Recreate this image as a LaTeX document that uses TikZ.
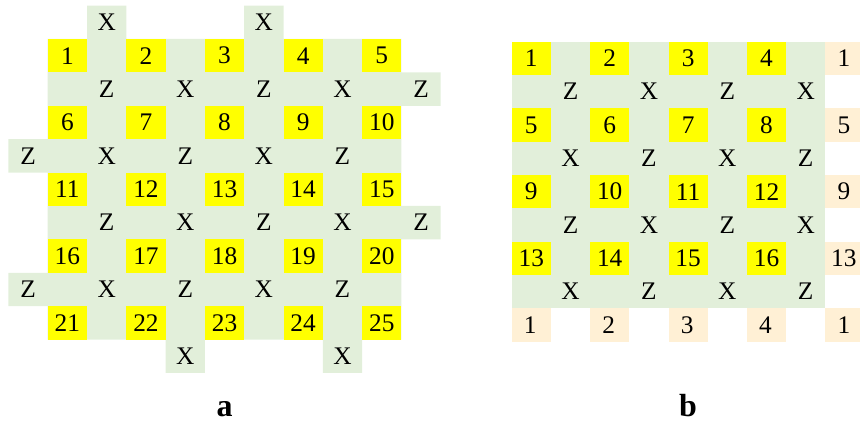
\documentclass[tikz,border=0pt]{standalone}
\usepackage{fontspec}
\setmainfont{Liberation Serif}
\definecolor{gr}{HTML}{E2EFDA}
\definecolor{yl}{HTML}{FFFF00}
\definecolor{bg}{HTML}{FFF0D5}
\begin{document}
\begin{tikzpicture}[x=0.75pt,y=-0.75pt,
  lbl/.style={font=\fontsize{19}{22}\selectfont, inner sep=0pt, anchor=center},
  panellbl/.style={font=\fontsize{24}{28}\selectfont\bfseries, inner sep=0pt, anchor=base}]
\useasboundingbox (0,0) rectangle (860,423);
% ---------- panel a ----------
\def\ax{8.4}\def\aw{39.3}\def\ay{5.6}\def\ah{33.4}
\fill[gr] \foreach \a/\b/\c/\d in {1/1/10/10, 2/0/3/1, 6/0/7/1, 10/2/11/3, 10/6/11/7, 0/4/1/5, 0/8/1/9, 4/10/5/11, 8/10/9/11}
  {({\ax+\a*\aw},{\ay+\b*\ah}) rectangle ({\ax+\c*\aw},{\ay+\d*\ah})};
\foreach \k in {0,...,4}{
  \foreach \j in {0,...,4}{
    \pgfmathtruncatemacro{\n}{5*\k+\j+1}
    \pgfmathsetmacro{\cc}{2*\j+1}
    \pgfmathsetmacro{\rr}{2*\k+1}
    \fill[yl] ({\ax+\cc*\aw},{\ay+\rr*\ah}) rectangle ({\ax+(\cc+1)*\aw},{\ay+(\rr+1)*\ah});
    \node[lbl] (aq\n) at ({\ax+(\cc+0.5)*\aw},{\ay+(\rr+0.5)*\ah}) {\n};
  }
}
\foreach \c/\r/\t [count=\i] in {2/0/X, 6/0/X,
  2/2/Z, 4/2/X, 6/2/Z, 8/2/X, 10/2/Z,
  0/4/Z, 2/4/X, 4/4/Z, 6/4/X, 8/4/Z,
  2/6/Z, 4/6/X, 6/6/Z, 8/6/X, 10/6/Z,
  0/8/Z, 2/8/X, 4/8/Z, 6/8/X, 8/8/Z,
  4/10/X, 8/10/X}
  \node[lbl] (as\i) at ({\ax+(\c+0.5)*\aw},{\ay+(\r+0.5)*\ah}) {\t};
\node[panellbl] (capa) at (224.7,416.7) {a};
% ---------- panel b ----------
\def\bx{511.7}\def\bw{39.2}\def\by{41.7}\def\bh{33.33}
\fill[gr] (\bx,\by) rectangle ({\bx+8*\bw},{\by+8*\bh});
\foreach \k in {0,...,3}{
  \foreach \j in {0,...,3}{
    \pgfmathtruncatemacro{\n}{4*\k+\j+1}
    \pgfmathsetmacro{\cc}{2*\j}
    \pgfmathsetmacro{\rr}{2*\k}
    \fill[yl] ({\bx+\cc*\bw},{\by+\rr*\bh}) rectangle ({\bx+(\cc+1)*\bw},{\by+(\rr+1)*\bh});
    \node[lbl] (bq\n) at ({\bx+(\cc+0.5)*\bw},{\by+(\rr+0.5)*\bh}) {\n};
  }
}
\foreach \c/\r/\t [count=\i] in {8/0/1, 8/2/5, 8/4/9, 8/6/13, 0/8/1, 2/8/2, 4/8/3, 6/8/4, 8/8/1}{
  \fill[bg] ({\bx+\c*\bw},{\by+\r*\bh}) rectangle ({\bx+(\c+1)*\bw},{\by+(\r+1)*\bh});
  \node[lbl] (bb\i) at ({\bx+(\c+0.5)*\bw-1},{\by+(\r+0.5)*\bh}) {\t};
}
\foreach \c/\r/\t [count=\i] in {
  1/1/Z, 3/1/X, 5/1/Z, 7/1/X,
  1/3/X, 3/3/Z, 5/3/X, 7/3/Z,
  1/5/Z, 3/5/X, 5/5/Z, 7/5/X,
  1/7/X, 3/7/Z, 5/7/X, 7/7/Z}
  \node[lbl] (bs\i) at ({\bx+(\c+0.5)*\bw},{\by+(\r+0.5)*\bh}) {\t};
\node[panellbl] (capb) at (688,416.7) {b};
\end{tikzpicture}
\end{document}
